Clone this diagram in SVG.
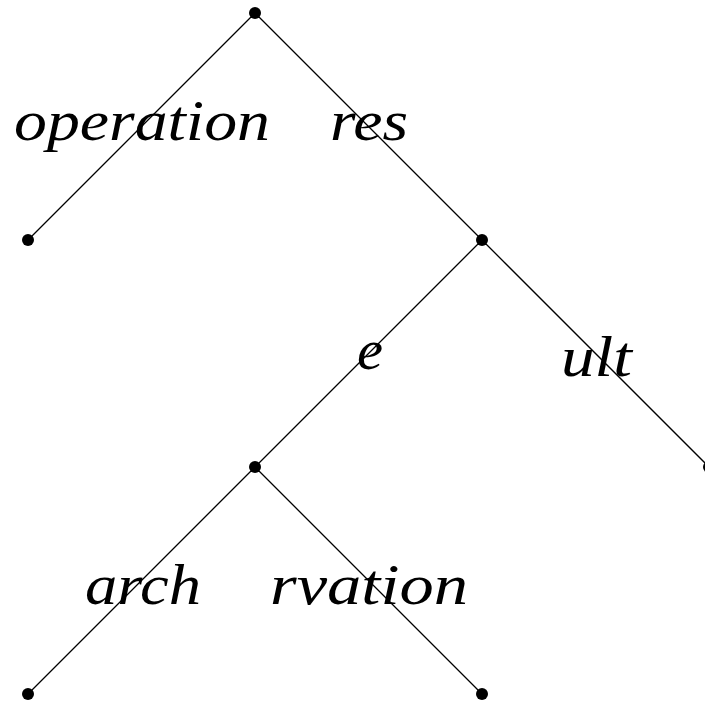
<svg xmlns="http://www.w3.org/2000/svg" width="705" height="702" viewBox="0 0 705 702">
<style>
.e{stroke:#000;stroke-width:1.3;fill:none}
.n{fill:#000}
.l{font-family:"Liberation Serif","DejaVu Serif",serif;font-style:italic;font-size:58px;fill:#000}
</style>
<rect width="705" height="702" fill="#fff"/>
<g id="connectors">
<line class="e" x1="255" y1="13" x2="28" y2="240"/>
<line class="e" x1="255" y1="13" x2="482" y2="240"/>
<line class="e" x1="482" y1="240" x2="255" y2="467"/>
<line class="e" x1="482" y1="240" x2="709" y2="467"/>
<line class="e" x1="255" y1="467" x2="28" y2="694"/>
<line class="e" x1="255" y1="467" x2="482" y2="694"/>
</g>
<g id="labels">
<text class="l" x="14" y="140" textLength="256" lengthAdjust="spacingAndGlyphs">operation</text>
<text class="l" x="330" y="140" textLength="78" lengthAdjust="spacingAndGlyphs">res</text>
<text class="l" x="357" y="369" textLength="26" lengthAdjust="spacingAndGlyphs">e</text>
<text class="l" x="561" y="376" textLength="71" lengthAdjust="spacingAndGlyphs">ult</text>
<text class="l" x="85" y="604" textLength="116" lengthAdjust="spacingAndGlyphs">arch</text>
<text class="l" x="270" y="604" textLength="198" lengthAdjust="spacingAndGlyphs">rvation</text>
</g>
<g id="n0"><circle class="n" cx="255" cy="13" r="6"/></g>
<g id="n1"><circle class="n" cx="28" cy="240" r="6"/></g>
<g id="n2"><circle class="n" cx="482" cy="240" r="6"/></g>
<g id="n3"><circle class="n" cx="255" cy="467" r="6"/></g>
<g id="n4"><circle class="n" cx="709" cy="467" r="6"/></g>
<g id="n5"><circle class="n" cx="28" cy="694" r="6"/></g>
<g id="n6"><circle class="n" cx="482" cy="694" r="6"/></g>
</svg>
